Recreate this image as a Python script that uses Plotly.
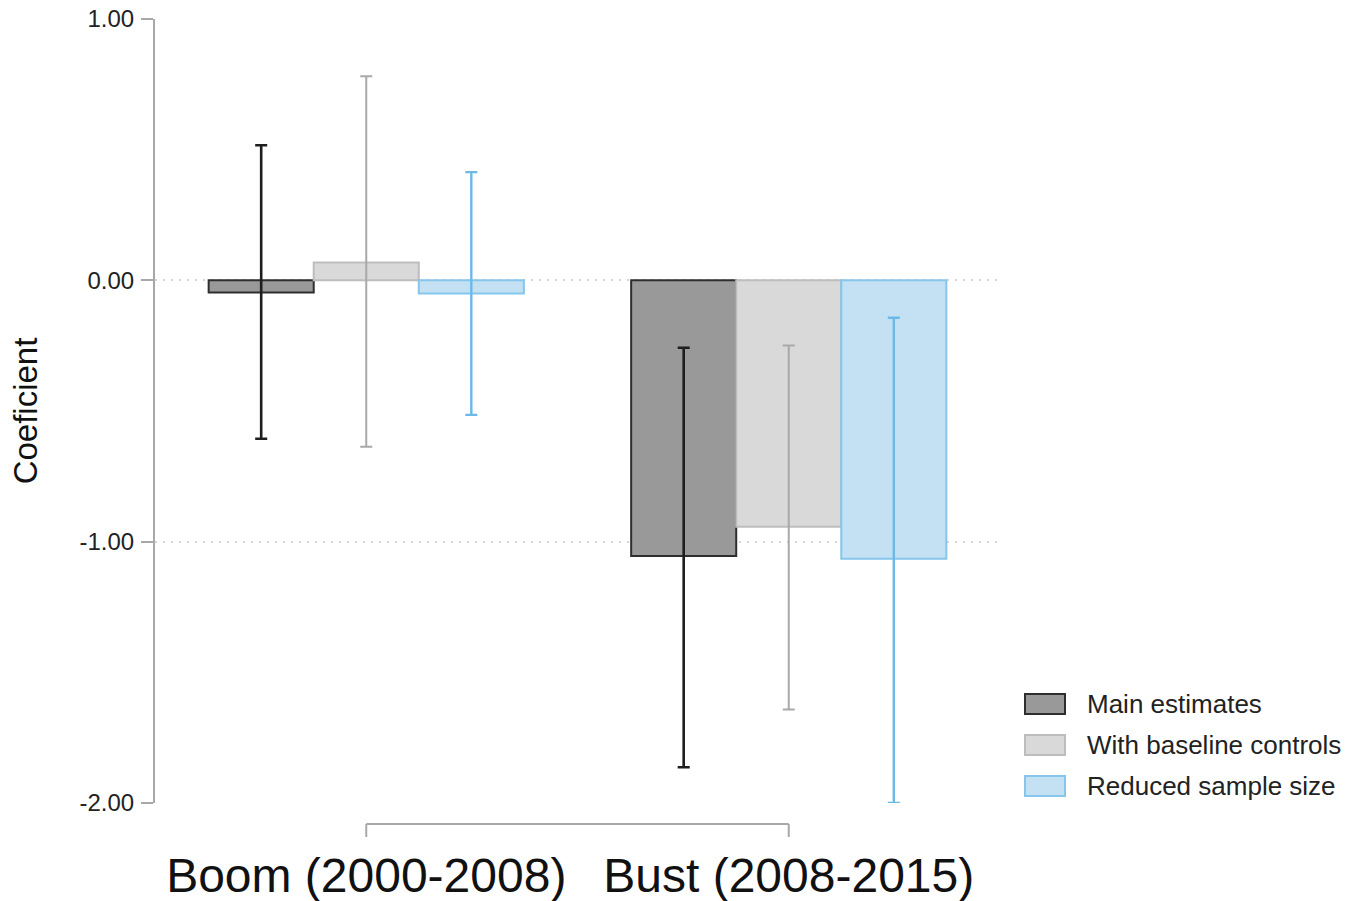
import plotly.graph_objects as go

# ---- data ----
periods = ["Boom (2000-2008)", "Bust (2008-2015)"]
series_names = ["Main estimates", "With baseline controls", "Reduced sample size"]

coef_main = [-0.047, -1.055]
ci_low_main = [-0.606, -1.863]
ci_high_main = [0.517, -0.258]

coef_base = [0.068, -0.943]
ci_low_base = [-0.637, -1.642]
ci_high_base = [0.781, -0.249]

coef_reduced = [-0.050, -1.065]
ci_low_reduced = [-0.515, -2.000]
ci_high_reduced = [0.414, -0.143]

y_tickvals = [-2, -1, 0, 1]
y_ticktext = ["-2.00", "-1.00", "0.00", "1.00"]

# ---- styles ----
fills = ["#999999", "#d9d9d9", "#c3e1f3"]
outlines = ["#2e2e2e", "#bdbdbd", "#86c5ec"]
err_colors = ["#1e1e1e", "#a9a9a9", "#6cb9e8"]
err_thick = [2.6, 2.0, 2.4]

series = [
    (coef_main, ci_low_main, ci_high_main),
    (coef_base, ci_low_base, ci_high_base),
    (coef_reduced, ci_low_reduced, ci_high_reduced),
]

FONT = "Liberation Sans, Arial, sans-serif"

fig = go.Figure()
for i, (coef, lo, hi) in enumerate(series):
    fig.add_trace(go.Bar(
        x=periods,
        y=coef,
        name=series_names[i],
        showlegend=False,
        marker=dict(color=fills[i], line=dict(color=outlines[i], width=2)),
        error_y=dict(
            type="data",
            symmetric=False,
            array=[h - c for h, c in zip(hi, coef)],
            arrayminus=[c - l for c, l in zip(coef, lo)],
            color=err_colors[i],
            thickness=err_thick[i],
            width=6,
        ),
    ))

W, H = 1350, 901
L, R, T, B = 155, 350, 19, 98
pw, ph = W - L - R, H - T - B

def px_x(p):
    return (p - L) / pw

def px_y(p):
    return (H - B - p) / ph

shapes = []
annotations = []

# category bracket under the plot
yb = px_y(824)
yt = px_y(837)
shapes.append(dict(type="line", xref="x", yref="paper", x0=0, x1=1, y0=yb, y1=yb,
                   line=dict(color="#a8a8a8", width=2)))
for xc in (0, 1):
    shapes.append(dict(type="line", xref="x", yref="paper", x0=xc, x1=xc, y0=yb, y1=yt,
                       line=dict(color="#a8a8a8", width=2)))

# manual legend
for i, name in enumerate(series_names):
    top = 694 + 41 * i
    shapes.append(dict(type="rect", xref="paper", yref="paper",
                       x0=px_x(1025), x1=px_x(1065), y0=px_y(top), y1=px_y(top + 20),
                       fillcolor=fills[i], line=dict(color=outlines[i], width=2)))
    annotations.append(dict(xref="paper", yref="paper", x=px_x(1085), y=px_y(top + 10),
                            text=name, showarrow=False, xanchor="left", yanchor="middle",
                            font=dict(family=FONT, size=26, color="#222222")))

fig.update_layout(
    width=W, height=H,
    margin=dict(l=L, r=R, t=T, b=B, autoexpand=False),
    plot_bgcolor="white", paper_bgcolor="white",
    barmode="group", bargap=0.254, bargroupgap=0,
    font=dict(family=FONT, color="#222222"),
    shapes=shapes,
    annotations=annotations,
    xaxis=dict(
        range=[-0.5, 1.5],
        automargin=False,
        showline=False, showgrid=False, zeroline=False,
        ticks="", tickfont=dict(family=FONT, size=48, color="#111111"),
        ticklabelstandoff=40,
    ),
    yaxis=dict(
        range=[-2, 1],
        automargin=False,
        tickvals=y_tickvals, ticktext=y_ticktext,
        tickfont=dict(family=FONT, size=24, color="#222222"),
        ticks="outside", ticklen=12, tickwidth=2, tickcolor="#a8a8a8",
        ticklabelstandoff=2,
        showline=True, linecolor="#a8a8a8", linewidth=2,
        showgrid=True, gridcolor="#d6d6d6", gridwidth=1.5, griddash="2px,6px",
        zeroline=False,
        title=dict(text="Coeficient", font=dict(family=FONT, size=33, color="#111111"),
                   standoff=32),
    ),
)

fig.write_html("out.html", config={"displayModeBar": False},
               post_script="document.body.style.margin='0';")
